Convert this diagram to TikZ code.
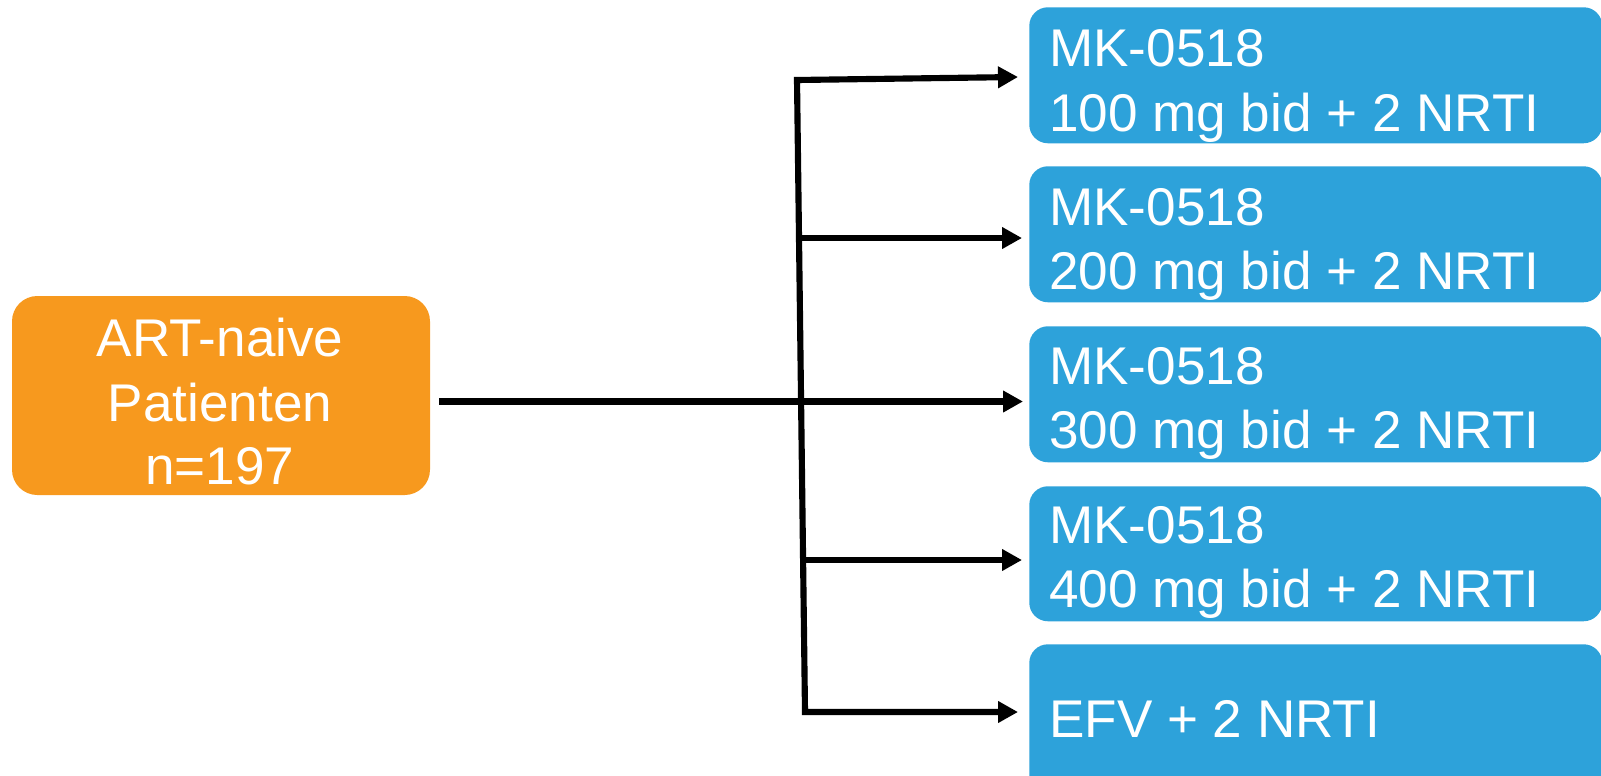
\documentclass[tikz,border=0pt]{standalone}
\usepackage{fontspec}
\setmainfont{Liberation Sans}
\usetikzlibrary{arrows.meta}
\definecolor{orangebox}{RGB}{247,153,30}
\definecolor{bluebox}{RGB}{45,162,218}
\begin{document}
\begin{tikzpicture}[x=0.75pt,y=-0.75pt,
  >={Triangle[length=15pt,width=15.5pt]},
  bbox/.style={fill=bluebox, rounded corners=14pt, inner sep=0pt, draw=none},
  obox/.style={fill=orangebox, rounded corners=19pt, inner sep=0pt, draw=none},
  btxt/.style={anchor=base west, inner sep=0pt, text=white, font=\fontsize{39.8}{47}\selectfont},
  otxt/.style={anchor=base, inner sep=0pt, text=white, font=\fontsize{39.8}{47}\selectfont},
  conn/.style={line width=4.6pt, line cap=butt, line join=miter},
  arr/.style={conn, ->}]
\useasboundingbox (0,0) rectangle (1601,775);
\clip (0,0) rectangle (1601,775);
% boxes
\path[obox] (12,296) rectangle (430,495) node[pos=0.5] (pat) {};
\node[bbox, minimum width=573*0.75pt, minimum height=136*0.75pt, anchor=north west] (b1) at (1029,7) {};
\node[bbox, minimum width=573*0.75pt, minimum height=136*0.75pt, anchor=north west] (b2) at (1029,166) {};
\node[bbox, minimum width=573*0.75pt, minimum height=136*0.75pt, anchor=north west] (b3) at (1029,326) {};
\node[bbox, minimum width=573*0.75pt, minimum height=135*0.75pt, anchor=north west] (b4) at (1029,486) {};
\node[bbox, minimum width=573*0.75pt, minimum height=150*0.75pt, anchor=north west] (b5) at (1029,644) {};
% texts
\node[otxt] (p1) at (220,356) {ART-naive};
\node[otxt] (p2) at (220,421) {Patienten};
\node[otxt] (p3) at (220,484) {n=197};
\node[btxt] (t1a) at (1049,66) {MK-0518};
\node[btxt] (t1b) at (1049,131) {100 mg bid + 2 NRTI};
\node[btxt] (t2a) at (1049,225) {MK-0518};
\node[btxt] (t2b) at (1049,289) {200 mg bid + 2 NRTI};
\node[btxt] (t3a) at (1049,384) {MK-0518};
\node[btxt] (t3b) at (1049,448) {300 mg bid + 2 NRTI};
\node[btxt] (t4a) at (1049,543) {MK-0518};
\node[btxt] (t4b) at (1049,607) {400 mg bid + 2 NRTI};
\node[btxt] (t5) at (1049,737) {EFV + 2 NRTI};
% connector points
\coordinate (s) at (439,401.5);
\coordinate (j1) at (797,80);
\coordinate (j2) at (799,238);
\coordinate (j4) at (801,560);
\coordinate (j5) at (805,712);
\coordinate (e1) at (1018,77);
\coordinate (e2) at (1022,238);
\coordinate (e3) at (1023,401.5);
\coordinate (e4) at (1022,560);
\coordinate (e5) at (1018,712);
% connectors
\draw[conn, <->] (e1) -- (j1) -- (j5) -- (e5);
\draw[arr] (j2) -- (e2);
\draw[arr] (s) -- (e3);
\draw[arr] (j4) -- (e4);
\end{tikzpicture}
\end{document}
